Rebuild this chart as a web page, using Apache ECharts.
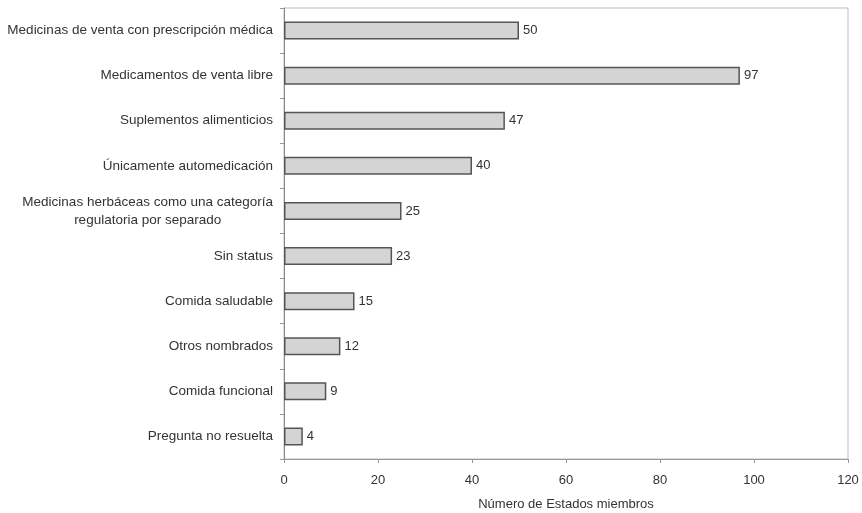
<!DOCTYPE html>
<html>
<head>
<meta charset="utf-8">
<script src="https://cdn.jsdelivr.net/npm/echarts@6/dist/echarts.min.js"></script>
<style>
html,body{margin:0;padding:0;background:#fff;}
#chart{width:862px;height:513px;}
</style>
</head>
<body>
<div id="chart"></div>
<script>
var categories = [
  "Medicinas de venta con prescripción médica",
  "Medicamentos de venta libre",
  "Suplementos alimenticios",
  "Únicamente automedicación",
  "Medicinas herbáceas como una categoría\nregulatoria por separado",
  "Sin status",
  "Comida saludable",
  "Otros nombrados",
  "Comida funcional",
  "Pregunta no resuelta"
];
var values = [50, 97, 47, 40, 25, 23, 15, 12, 9, 4];
var axisTitle = "Número de Estados miembros";

var chart = echarts.init(document.getElementById('chart'));
var font = 'Liberation Sans, Arial, sans-serif';
chart.setOption({
  animation: false,
  grid: {
    left: 284, right: 14, top: 8, bottom: 54,
    outerBoundsMode: 'none', containLabel: false,
    show: true, borderColor: '#bdbdbd', borderWidth: 1, backgroundColor: 'transparent'
  },
  xAxis: {
    type: 'value', min: 0, max: 120, interval: 20,
    name: axisTitle, nameLocation: 'middle', nameGap: 39,
    nameTextStyle: {color: '#333', fontSize: 13, fontFamily: font},
    axisLine: {show: true, lineStyle: {color: '#999', width: 1}},
    axisTick: {show: true, length: 4, lineStyle: {color: '#999'}},
    axisLabel: {color: '#333', fontSize: 13, fontFamily: font, margin: 15},
    splitLine: {show: false}
  },
  yAxis: {
    type: 'category', data: categories, inverse: true,
    axisLine: {show: true, lineStyle: {color: '#888', width: 1}},
    axisTick: {show: true, length: 4, lineStyle: {color: '#999'}},
    axisLabel: {
      color: '#333', fontSize: 13.5, fontFamily: font, margin: 11, lineHeight: 18,
      formatter: function (v) {
        return v.split('\n').map(function (s) { return '{c|' + s + '}'; }).join('\n');
      },
      rich: {c: {align: 'center', color: '#333', fontSize: 13.5, fontFamily: font, lineHeight: 18}}
    },
    splitLine: {show: false}
  },
  series: [{
    type: 'bar', data: values, barWidth: 18,
    itemStyle: {color: '#d4d4d4', borderColor: '#555', borderWidth: 1.5},
    label: {show: true, position: 'right', distance: 4, color: '#333', fontSize: 13, fontFamily: font}
  }]
});
</script>
</body>
</html>
